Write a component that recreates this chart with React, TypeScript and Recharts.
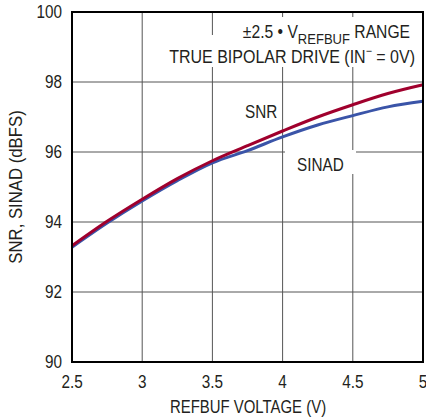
import { LineChart, Line, XAxis, YAxis, CartesianGrid } from 'recharts';

const voltage = [2.5, 2.75, 3, 3.25, 3.5, 3.75, 4, 4.25, 4.5, 4.75, 5];
const snr = [93.32, 94.02, 94.65, 95.24, 95.75, 96.18, 96.6, 97.0, 97.35, 97.67, 97.92];
const sinad = [93.28, 93.97, 94.6, 95.18, 95.69, 96.04, 96.43, 96.77, 97.04, 97.29, 97.45];

const xTicks = [2.5, 3, 3.5, 4, 4.5, 5];
const yTicks = [90, 92, 94, 96, 98, 100];

const data = voltage.map((v, i) => ({ v, snr: snr[i], sinad: sinad[i] }));

const FONT = '"Liberation Sans", Arial, sans-serif';
const TEXT = '#231f20';

// no narrow font installed, so squeeze the regular one horizontally
const NText = ({ x, y, sx = 0.85, anchor = 'start', dy, children }: any) => (
  <text
    x={0}
    y={0}
    dy={dy}
    transform={`translate(${x} ${y}) scale(${sx} 1)`}
    textAnchor={anchor}
    fontFamily={FONT}
    fontSize={18}
    fill={TEXT}
  >
    {children}
  </text>
);

const XTick = (p: any) => (
  <NText x={p.x} y={p.y} anchor="middle" dy="0.71em">
    {p.payload.value}
  </NText>
);

const YTick = (p: any) => (
  <NText x={p.x} y={p.y} anchor="end" dy="0.355em">
    {p.payload.value}
  </NText>
);

export default function App() {
  return (
    <div style={{ position: 'absolute', left: 0, top: 0, width: 426, height: 419, background: '#fff' }}>
      <LineChart
        width={426}
        height={419}
        data={data}
        margin={{ top: 12, right: 3, bottom: 27, left: 12 }}
      >
        <CartesianGrid stroke="#555" strokeWidth={1} />
        <XAxis
          dataKey="v"
          type="number"
          domain={[2.5, 5]}
          ticks={xTicks}
          height={30}
          axisLine={false}
          tickLine={false}
          tickSize={0}
          tickMargin={13}
          tick={XTick}
          interval={0}
        />
        <YAxis
          type="number"
          domain={[90, 100]}
          ticks={yTicks}
          width={60}
          axisLine={false}
          tickLine={false}
          tickSize={0}
          tickMargin={10}
          tick={YTick}
          interval={0}
        />
        <Line
          type="monotone"
          dataKey="sinad"
          stroke="#3a54a8"
          strokeWidth={3}
          dot={false}
          isAnimationActive={false}
        />
        <Line
          type="monotone"
          dataKey="snr"
          stroke="#a0002d"
          strokeWidth={3}
          dot={false}
          isAnimationActive={false}
        />
      </LineChart>
      <svg
        width={426}
        height={419}
        style={{ position: 'absolute', left: 0, top: 0, pointerEvents: 'none' }}
      >
        {/* white boxes behind the annotations */}
        <rect x={236} y={17} width={185} height={23} fill="#fff" />
        <rect x={165} y={35} width={256} height={32} fill="#fff" />
        <rect x={285} y={150} width={71} height={24} fill="#fff" />
        <rect x={72} y={12} width={351} height={350} fill="none" stroke="#000" strokeWidth={2} />
        <NText x={410} y={38} anchor="end" sx={0.87}>
          ±2.5 • V
          <tspan fontSize={15} dy={6}>REFBUF</tspan>
          <tspan dy={-6}> RANGE</tspan>
        </NText>
        <NText x={415} y={63} anchor="end" sx={0.89}>
          TRUE BIPOLAR DRIVE (IN
          <tspan fontSize={12} dy={-8}>−</tspan>
          <tspan dy={8}> = 0V)</tspan>
        </NText>
        <NText x={245} y={118}>SNR</NText>
        <NText x={297} y={171}>SINAD</NText>
        <NText x={248} y={413} anchor="middle" sx={0.83}>REFBUF VOLTAGE (V)</NText>
        <g transform="rotate(-90 22 187)">
          <NText x={22} y={187} anchor="middle" sx={0.93}>SNR, SINAD (dBFS)</NText>
        </g>
      </svg>
    </div>
  );
}
